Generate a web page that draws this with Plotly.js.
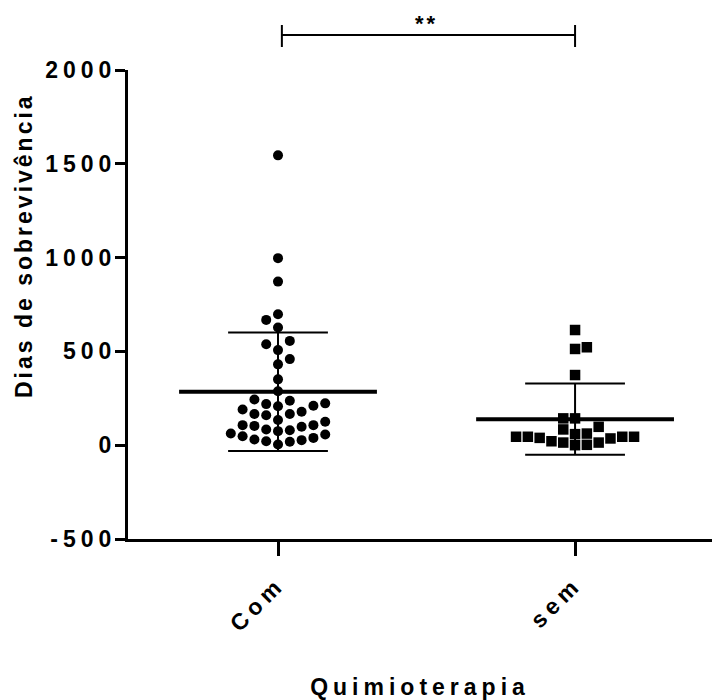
<!DOCTYPE html>
<html>
<head>
<meta charset="utf-8">
<script src="https://cdn.plot.ly/plotly-3.0.1.min.js"></script>
<style>
  html, body { margin: 0; padding: 0; background: #fff; }
  #chart { width: 718px; height: 700px; }
  .ytick text, .xtick text { letter-spacing: 5px; }
  .xtitle { letter-spacing: 5px; }
  .annotation-text { letter-spacing: 3px; }
</style>
</head>
<body>
<div id="chart"></div>
<script>
// ---- data ----
const categories = ['Com', 'sem'];
const comDays = [1545, 997, 872, 668, 698, 627, 538, 556, 507, 459, 431, 351, 288,
  223, 210, 190, 166, 160, 166, 244, 178, 208, 219, 237,
  125, 107, 98, 80, 75, 84, 103, 107, 134,
  62, 48, 30, 21, 4, 18, 27, 39, 57];
const semDays = [614, 522, 513, 374, 143, 143, 98, 84, 62, 45, 45, 39, 21, 14, 0, 2, 14, 36, 45, 45, 59];
const yTickVals = [-500, 0, 500, 1000, 1500, 2000];
const yTickText = ['-500', '0', '500', '1000', '1500', '2000'];
const xTitle = 'Quimioterapia';
const yTitle = 'Dias de sobrevivência';
const significance = '**';

// ---- geometry helpers ----
const W = 718, H = 700;
const margin = {l: 128, r: 6, t: 70, b: 161};
const xRange = [-0.505, 1.461];
const yRange = [-500, 2000];
const plotW = W - margin.l - margin.r;
const plotH = H - margin.t - margin.b;
const pxPerX = plotW / (xRange[1] - xRange[0]);
const pxPerY = plotH / (yRange[1] - yRange[0]);

function mean(a) { return a.reduce((s, v) => s + v, 0) / a.length; }
function sd(a) { const m = mean(a); return Math.sqrt(a.reduce((s, v) => s + (v - m) * (v - m), 0) / (a.length - 1)); }

// Prism-like scatter-dot layout: points closer than dy px vertically
// must be at least one step apart horizontally; half-step grid.
function dotLayout(values, center, stepPx, dyPx) {
  const idx = values.map((v, i) => i).sort((a, b) => values[a] - values[b]);
  const placed = [];
  const out = new Array(values.length);
  let flip = 1;
  const steps = [0];
  for (let k = 1; k <= 30; k++) steps.push(k * 0.5);
  for (const i of idx) {
    const y = values[i] * pxPerY;
    const near = placed.filter(p => Math.abs(p.y - y) < dyPx - 1e-9);
    let best = 0;
    for (const st of steps) {
      const tries = st === 0 ? [0] : [flip * st, -flip * st];
      const found = tries.find(t => near.every(p => Math.abs(p.s - t) >= 1 - 1e-9));
      if (found !== undefined) { best = found; break; }
    }
    if (best !== 0) flip = best > 0 ? -1 : 1;
    placed.push({s: best, y: y});
    out[i] = center + best * stepPx / pxPerX;
  }
  return out;
}

const groups = [comDays, semDays];
const symbols = ['circle', 'square'];
const sizes = [10, 10.5];

const traces = groups.map((vals, g) => ({
  type: 'scatter', mode: 'markers',
  x: dotLayout(vals, g, 11.8, 11),
  y: vals,
  marker: {symbol: symbols[g], size: sizes[g], color: '#000', line: {width: 0}},
  hoverinfo: 'y', showlegend: false, cliponaxis: false
}));

const shapes = [];
groups.forEach((vals, g) => {
  const m = mean(vals), s = sd(vals);
  const line = (x0, x1, y0, y1, w) => shapes.push({type: 'line', xref: 'x', yref: 'y', x0, x1, y0, y1, layer: 'below', line: {color: '#000', width: w}});
  line(g - 0.333, g + 0.333, m, m, 4);        // mean
  line(g, g, m - s, m + s, 2);                // SD whisker
  line(g - 0.168, g + 0.168, m + s, m + s, 2); // upper cap
  line(g - 0.168, g + 0.168, m - s, m - s, 2); // lower cap
});
// significance bracket
const yb = 1 + (margin.t - 35) / plotH;
const yt0 = 1 + (margin.t - 25) / plotH, yt1 = 1 + (margin.t - 47) / plotH;
shapes.push({type: 'line', xref: 'x', yref: 'paper', x0: 0.013, x1: 1, y0: yb, y1: yb, line: {color: '#000', width: 2}});
shapes.push({type: 'line', xref: 'x', yref: 'paper', x0: 0.013, x1: 0.013, y0: yt0, y1: yt1, line: {color: '#000', width: 2}});
shapes.push({type: 'line', xref: 'x', yref: 'paper', x0: 1, x1: 1, y0: yt0, y1: yt1, line: {color: '#000', width: 2}});

const fam = '"Liberation Sans", Arial, sans-serif';
const font = {family: fam, color: '#000', weight: 'bold'};
const F = (size, extra) => Object.assign({}, font, {size: size}, extra || {});

const layout = {
  width: W, height: H,
  margin: margin,
  paper_bgcolor: '#fff', plot_bgcolor: '#fff',
  font: F(20),
  xaxis: {
    range: xRange, showgrid: false, zeroline: false,
    showline: true, linewidth: 3, linecolor: '#000',
    tickmode: 'array', tickvals: [0, 1], ticktext: categories,
    ticks: 'outside', ticklen: 14, tickwidth: 3, tickcolor: '#000',
    tickangle: -45, tickfont: F(23), ticklabelstandoff: 6,
    title: {text: xTitle, font: F(23), standoff: 52},
    automargin: false
  },
  yaxis: {
    range: yRange, showgrid: false, zeroline: false,
    showline: true, linewidth: 3, linecolor: '#000',
    tickmode: 'array', tickvals: yTickVals, ticktext: yTickText,
    ticks: 'outside', ticklen: 10, tickwidth: 3, tickcolor: '#000',
    tickfont: F(23), ticklabelstandoff: -6,
    automargin: false
  },
  shapes: shapes,
  annotations: [
    {
      xref: 'x', yref: 'paper', x: 0.5, y: 1 + (margin.t - 38) / plotH,
      text: significance, showarrow: false, yanchor: 'bottom',
      font: F(22)
    },
    {
      xref: 'paper', yref: 'paper', x: (24 - margin.l) / plotW, y: (H - margin.b - 246) / plotH,
      xanchor: 'center', yanchor: 'middle', textangle: -90,
      text: yTitle, showarrow: false, font: F(23)
    }
  ]
};

Plotly.newPlot('chart', traces, layout, {displayModeBar: false, staticPlot: true});
</script>
</body>
</html>
